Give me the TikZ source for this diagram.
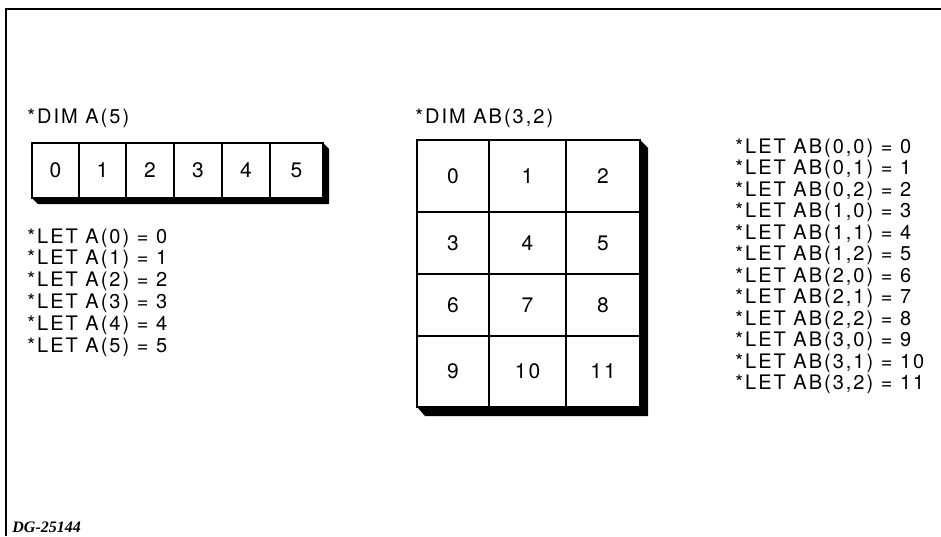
\documentclass[tikz,border=0pt]{standalone}
\usepackage{fontspec}
\setmainfont{TeX Gyre Heros}[LetterSpace=10]
\newfontfamily\tagfont{Liberation Serif}
\begin{document}
\begin{tikzpicture}[x=0.5pt,y=-0.5pt,
  lbl/.style={anchor=west,inner sep=0pt,font=\fontsize{10}{12}\selectfont},
  cellbox/.style={draw,line width=0.75pt,fill=white,inner sep=0pt,font=\fontsize{10.5}{12}\selectfont},
  shadowfill/.style={fill=black,draw=none},
  frameline/.style={line width=1pt}]
\useasboundingbox (0,0) rectangle (941,536);
% frame
\draw[frameline] (6,536) -- (6,9) -- (941,9);
% ---- 1D array ----
\node[lbl] (dimA) at (27,118) {*DIM A(5)};
\fill[shadowfill] (323,143) -- (329,149) -- (329,204) -- (38,204) -- (32,198) -- cycle;
\node[cellbox,minimum width=23.5pt,minimum height=27.5pt] (a0) at (55.5,170.5) {0};
\node[cellbox,minimum width=23.5pt,minimum height=27.5pt] (a1) at (102.5,170.5) {1};
\node[cellbox,minimum width=24pt,minimum height=27.5pt] (a2) at (150,170.5) {2};
\node[cellbox,minimum width=24pt,minimum height=27.5pt] (a3) at (198,170.5) {3};
\node[cellbox,minimum width=24pt,minimum height=27.5pt] (a4) at (246,170.5) {4};
\node[cellbox,minimum width=26.5pt,minimum height=27.5pt] (a5) at (296.5,170.5) {5};
\node[lbl] (la0) at (27,238) {*LET A(0) = 0};
\node[lbl] (la1) at (27,259.8) {*LET A(1) = 1};
\node[lbl] (la2) at (27,281.6) {*LET A(2) = 2};
\node[lbl] (la3) at (27,303.4) {*LET A(3) = 3};
\node[lbl] (la4) at (27,325.2) {*LET A(4) = 4};
\node[lbl] (la5) at (27,347) {*LET A(5) = 5};
% ---- 2D array ----
\node[lbl] (dimAB) at (415,118) {*DIM AB(3,2)};
\fill[shadowfill] (640,140) -- (648,148) -- (648,416) -- (425,416) -- (417,407) -- cycle;
% row 0
\node[cellbox,minimum width=36pt,minimum height=36pt] (b0) at (453,176) {0};
\node[cellbox,minimum width=38.5pt,minimum height=36pt] (b1) at (527.5,176) {1};
\node[cellbox,minimum width=37pt,minimum height=36pt] (b2) at (603,176) {2};
% row 1
\node[cellbox,minimum width=36pt,minimum height=31pt] (b3) at (453,243) {3};
\node[cellbox,minimum width=38.5pt,minimum height=31pt] (b4) at (527.5,243) {4};
\node[cellbox,minimum width=37pt,minimum height=31pt] (b5) at (603,243) {5};
% row 2
\node[cellbox,minimum width=36pt,minimum height=31pt] (b6) at (453,305) {6};
\node[cellbox,minimum width=38.5pt,minimum height=31pt] (b7) at (527.5,305) {7};
\node[cellbox,minimum width=37pt,minimum height=31pt] (b8) at (603,305) {8};
% row 3
\node[cellbox,minimum width=36pt,minimum height=35.5pt] (b9) at (453,371.5) {9};
\node[cellbox,minimum width=38.5pt,minimum height=35.5pt] (b10) at (527.5,371.5) {10};
\node[cellbox,minimum width=37pt,minimum height=35.5pt] (b11) at (603,371.5) {11};
% ---- right list ----
\node[lbl] (l00) at (735,148) {*LET AB(0,0) = 0};
\node[lbl] (l01) at (735,169.5) {*LET AB(0,1) = 1};
\node[lbl] (l02) at (735,191) {*LET AB(0,2) = 2};
\node[lbl] (l10) at (735,212.6) {*LET AB(1,0) = 3};
\node[lbl] (l11) at (735,234.1) {*LET AB(1,1) = 4};
\node[lbl] (l12) at (735,255.6) {*LET AB(1,2) = 5};
\node[lbl] (l20) at (735,277.2) {*LET AB(2,0) = 6};
\node[lbl] (l21) at (735,298.7) {*LET AB(2,1) = 7};
\node[lbl] (l22) at (735,320.2) {*LET AB(2,2) = 8};
\node[lbl] (l30) at (735,341.8) {*LET AB(3,0) = 9};
\node[lbl] (l31) at (735,363.3) {*LET AB(3,1) = 10};
\node[lbl] (l32) at (735,384.8) {*LET AB(3,2) = 11};
% tag
\node[anchor=west,inner sep=0pt,font=\tagfont\bfseries\itshape\fontsize{8}{9}\selectfont] (tag) at (12,527) {DG-25144};
\end{tikzpicture}
\end{document}
